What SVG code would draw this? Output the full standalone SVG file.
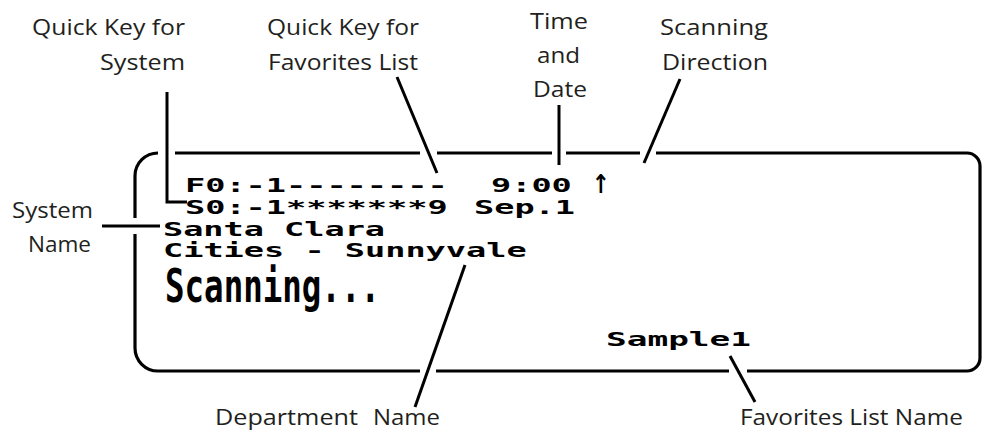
<svg xmlns="http://www.w3.org/2000/svg" width="983" height="432" viewBox="0 0 983 432">
<style>
.lbl{font-family:"Open Sans","Noto Sans","Liberation Sans",sans-serif;font-size:21px;fill:#231f20;}
.lcd{font-family:"DejaVu Sans Mono","Liberation Mono",monospace;font-size:20px;font-weight:bold;fill:#000;}
.arrow{font-family:"DejaVu Sans","DejaVu Sans Mono",sans-serif;font-size:26px;font-weight:bold;fill:#000;}
.big{font-family:"DejaVu Sans Mono","Liberation Mono",monospace;font-size:47px;font-weight:bold;fill:#000;}
.frame{fill:none;stroke:#000;stroke-width:3.2;stroke-linecap:butt;}
.lead{fill:none;stroke:#000;stroke-width:3;stroke-linecap:butt;stroke-linejoin:miter;}
</style>
<rect width="983" height="432" fill="#fff"/>

<g id="display">
  <path class="frame" d="M158,153 A23,23 0 0 0 135,176 L135,218 M135,234 L135,348 A23,23 0 0 0 158,371 L420,371 M436,371 L729,371 M747,371 L967,371 A13,13 0 0 0 980,358 L980,166 A13,13 0 0 0 967,153 L656,153 M640,153 L566,153 M552,153 L437,153 M420,153 L175,153"/>
</g>

<g id="lcd-text">
  <text class="lcd" x="185" y="192" textLength="262.6" lengthAdjust="spacingAndGlyphs">F0:-1--------</text>
  <text class="lcd" x="491" y="192" textLength="80.8" lengthAdjust="spacingAndGlyphs">9:00</text>
  <text class="arrow" x="592" y="193" textLength="18" lengthAdjust="spacingAndGlyphs">↑</text>
  <text class="lcd" x="185" y="214" textLength="262.6" lengthAdjust="spacingAndGlyphs">S0:-1*******9</text>
  <text class="lcd" x="474" y="214" textLength="101" lengthAdjust="spacingAndGlyphs">Sep.1</text>
  <text class="lcd" x="163" y="236" textLength="222" lengthAdjust="spacingAndGlyphs">Santa Clara</text>
  <text class="lcd" x="163" y="257" textLength="363.6" lengthAdjust="spacingAndGlyphs">Cities - Sunnyvale</text>
  <text class="big" x="165" y="302" textLength="215" lengthAdjust="spacingAndGlyphs">Scanning...</text>
  <text class="lcd" x="606" y="346" textLength="145" lengthAdjust="spacingAndGlyphs">Sample1</text>
</g>

<g id="label-quick-key-system">
  <text class="lbl" x="32" y="35" textLength="153" lengthAdjust="spacingAndGlyphs">Quick Key for</text>
  <text class="lbl" x="100" y="70" textLength="85" lengthAdjust="spacingAndGlyphs">System</text>
</g>
<g id="label-quick-key-favorites">
  <text class="lbl" x="267" y="35" textLength="152" lengthAdjust="spacingAndGlyphs">Quick Key for</text>
  <text class="lbl" x="268" y="70" textLength="150" lengthAdjust="spacingAndGlyphs">Favorites List</text>
</g>
<g id="label-time-date">
  <text class="lbl" x="530" y="29" textLength="58" lengthAdjust="spacingAndGlyphs">Time</text>
  <text class="lbl" x="537" y="63" textLength="43" lengthAdjust="spacingAndGlyphs">and</text>
  <text class="lbl" x="533" y="97" textLength="54" lengthAdjust="spacingAndGlyphs">Date</text>
</g>
<g id="label-scanning-direction">
  <text class="lbl" x="660" y="35" textLength="108" lengthAdjust="spacingAndGlyphs">Scanning</text>
  <text class="lbl" x="662" y="70" textLength="106" lengthAdjust="spacingAndGlyphs">Direction</text>
</g>
<g id="label-system-name">
  <text class="lbl" x="12" y="218" textLength="81" lengthAdjust="spacingAndGlyphs">System</text>
  <text class="lbl" x="28" y="252" textLength="63" lengthAdjust="spacingAndGlyphs">Name</text>
</g>
<g id="label-department-name">
  <text class="lbl" y="425"><tspan x="215" textLength="143" lengthAdjust="spacingAndGlyphs">Department</tspan><tspan x="373" textLength="67" lengthAdjust="spacingAndGlyphs">Name</tspan></text>
</g>
<g id="label-favorites-list-name">
  <text class="lbl" x="740" y="425" textLength="223" lengthAdjust="spacingAndGlyphs">Favorites List Name</text>
</g>

<g id="connectors">
  <polyline class="lead" points="167,92 167,202 187,202"/>
  <line class="lead" x1="397" y1="77" x2="437" y2="173"/>
  <line class="lead" x1="559" y1="105" x2="559" y2="165"/>
  <line class="lead" x1="680" y1="79" x2="644" y2="163"/>
  <line class="lead" x1="102" y1="226" x2="160" y2="226"/>
  <line class="lead" x1="465" y1="265" x2="415" y2="407"/>
  <line class="lead" x1="730" y1="356" x2="755" y2="402"/>
</g>
</svg>
